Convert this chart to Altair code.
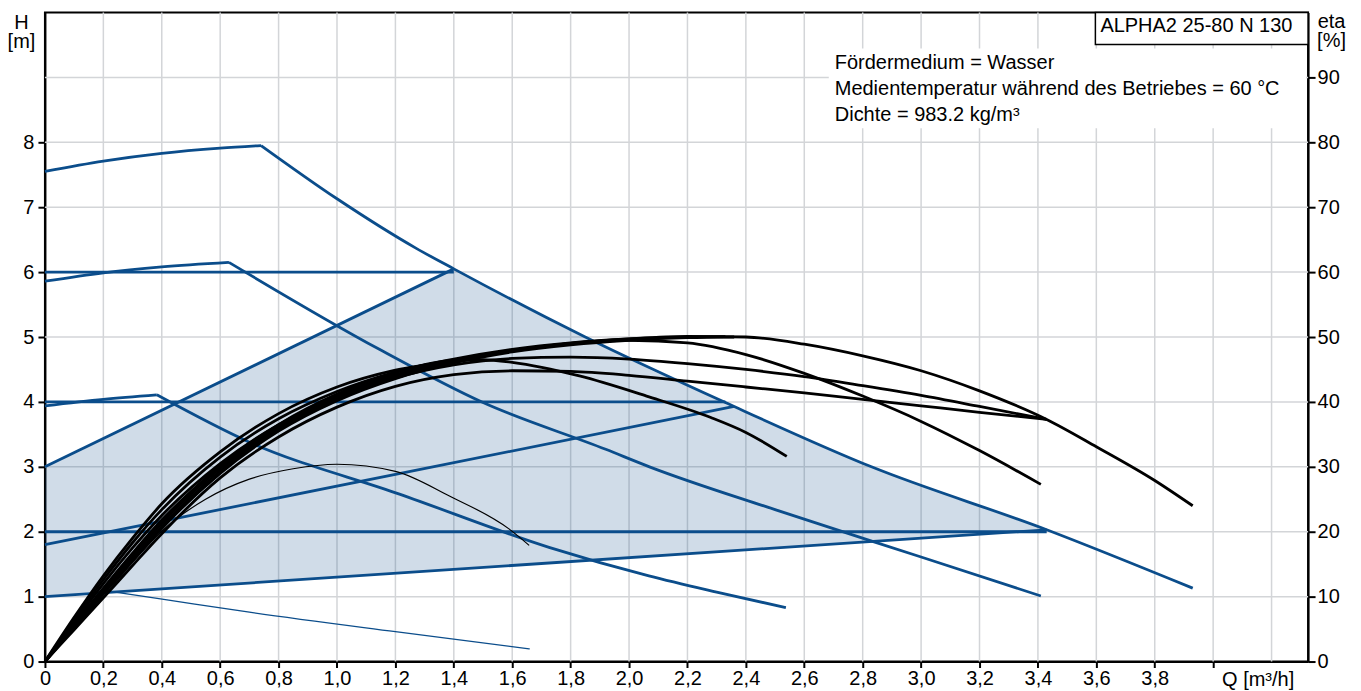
import altair as alt
import pandas as pd

BLUE = "#0b4d8b"
FILL = "#14508c"
GRID = "#d3d5d8"
FONT = "Liberation Sans"
FS = 20

# ---------------- axes ----------------
x_ticks = [0, 0.2, 0.4, 0.6, 0.8, 1.0, 1.2, 1.4, 1.6, 1.8, 2.0, 2.2, 2.4, 2.6, 2.8, 3.0, 3.2, 3.4, 3.6, 3.8, 4.0]
x_grid = [0.2, 0.4, 0.6, 0.8, 1.0, 1.2, 1.4, 1.6, 1.8, 2.0, 2.2, 2.4, 2.6, 2.8, 3.0, 3.2, 3.4, 3.6, 3.8, 4.0, 4.2]
h_ticks = [0, 1, 2, 3, 4, 5, 6, 7, 8]
h_grid = [1, 2, 3, 4, 5, 6, 7, 8, 9]
eta_ticks = [0, 10, 20, 30, 40, 50, 60, 70, 80, 90]

# ---------------- head curves H [m] ----------------
# max speed curve: rising part and falling part (sharp knee at the peak)
maxa_q = [0, 0.2, 0.4, 0.6, 0.74]
maxa_h = [7.55, 7.71, 7.83, 7.91, 7.95]
maxb_q = [0.74, 1.0, 1.27, 1.4, 1.85, 2.33, 2.83, 3.43, 3.93]
maxb_h = [7.95, 7.13, 6.37, 6.05, 5.0, 3.99, 3.0, 2.03, 1.13]

c2a_q = [0, 0.2, 0.4, 0.63]
c2a_h = [5.86, 5.99, 6.08, 6.15]
c2b_q = [0.63, 1.145, 1.5, 1.92, 2.07, 2.5, 3.0, 3.41]
c2b_h = [6.15, 4.81, 3.99, 3.27, 3.0, 2.34, 1.61, 1.01]

c3a_q = [0, 0.2, 0.383]
c3a_h = [3.94, 4.04, 4.11]
c3b_q = [0.383, 0.70, 1.214, 1.726, 2.068, 2.3, 2.537]
c3b_h = [4.11, 3.38, 2.58, 1.76, 1.32, 1.07, 0.83]

min_q = [0.24, 0.39, 0.70, 1.2, 1.66]
min_h = [1.07, 0.97, 0.76, 0.46, 0.195]

cp6_q = [0, 1.4]
cp6_h = [6.0, 6.0]
cp4_q = [0, 2.33]
cp4_h = [4.0, 4.0]
cp2_q = [0, 3.43]
cp2_h = [2.0, 2.0]

ppu_q = [0, 1.4]
ppu_h = [3.0, 6.05]
ppm_q = [0, 2.36]
ppm_h = [1.8, 3.93]
ppl_q = [0, 3.43]
ppl_h = [1.0, 2.03]

# shaded control range
area_q = [0, 1.4, 1.62, 1.85, 2.08, 2.33, 2.56, 2.83, 3.12, 3.43]
area_top = [3.0, 6.05, 5.5, 5.0, 4.48, 3.99, 3.52, 3.0, 2.51, 2.03]
area_bot = [1.0, 1.42, 1.49, 1.555, 1.625, 1.70, 1.77, 1.85, 1.94, 2.03]

# ---------------- efficiency curves eta [%] ----------------
emax_q = [0, 0.1, 0.2, 0.3, 0.4, 0.6, 0.8, 1.0, 1.2, 1.4, 1.6, 1.8, 2.0, 2.2, 2.4, 2.6, 2.8, 3.0, 3.2, 3.43, 3.6, 3.8, 3.93]
emax_e = [0, 6, 12, 17.5, 22.5, 30.5, 36.5, 40.8, 44, 46.3, 47.9, 49, 49.7, 50.1, 50, 48.9, 47.1, 44.8, 41.7, 37.3, 33.1, 27.9, 24]

eh6_q = [0, 0.1, 0.2, 0.3, 0.4, 0.6, 0.8, 1.0, 1.2, 1.4]
eh6_e = [0, 6.8, 13.2, 19, 24.3, 32.3, 38.2, 42.3, 44.9, 46.3]

eh4_q = [0, 0.1, 0.2, 0.3, 0.4, 0.6, 0.8, 1.0, 1.2, 1.4, 1.6, 1.8, 2.0, 2.2, 2.33]
eh4_e = [0, 6.4, 12.6, 18.3, 23.4, 31.5, 37.4, 41.6, 44.6, 46.6, 48.1, 49.1, 49.7, 50.0, 50.05]

epu_q = [0, 0.1, 0.2, 0.3, 0.4, 0.6, 0.8, 1.0, 1.2, 1.4]
epu_e = [0, 5.7, 11.3, 16.7, 21.8, 30, 36.3, 40.9, 44.2, 46.3]

epm_q = [0, 0.1, 0.2, 0.3, 0.4, 0.6, 0.8, 1.0, 1.2, 1.4, 1.6, 1.8, 2.0, 2.2, 2.36]
epm_e = [0, 5.2, 10.4, 15.5, 20.5, 29, 35.5, 40.2, 43.6, 46, 47.7, 48.8, 49.5, 49.9, 50.0]

ea_q = [0, 0.1, 0.2, 0.3, 0.4, 0.6, 0.8, 1.0, 1.2, 1.4, 1.6, 1.8, 2.0, 2.2, 2.4, 2.6, 2.8, 3.0, 3.2, 3.43]
ea_e = [0, 5.5, 11, 16.3, 21.3, 29.8, 36, 40.5, 43.7, 45.7, 46.7, 46.9, 46.6, 45.9, 45.0, 43.9, 42.5, 41.0, 39.3, 37.3]

eb_q = [0, 0.1, 0.2, 0.3, 0.4, 0.6, 0.8, 1.0, 1.2, 1.4, 1.6, 1.8, 2.0, 2.2, 2.4, 2.6, 2.8, 3.0, 3.2, 3.43]
eb_e = [0, 4.9, 9.8, 14.8, 19.7, 28.3, 34.6, 39.2, 42.4, 44.2, 44.8, 44.7, 44.1, 43.2, 42.3, 41.4, 40.4, 39.4, 38.4, 37.3]

e2_q = [0, 0.1, 0.2, 0.3, 0.4, 0.6, 0.8, 1.0, 1.2, 1.4, 1.6, 1.8, 2.0, 2.2, 2.4, 2.6, 2.8, 3.0, 3.2, 3.41]
e2_e = [0, 5.3, 10.6, 15.8, 20.8, 29.4, 35.8, 40.4, 43.8, 46.2, 47.9, 49.0, 49.5, 49.1, 47.3, 44.4, 40.9, 37.0, 32.5, 27.3]

e3_q = [0, 0.1, 0.2, 0.3, 0.4, 0.6, 0.8, 1.0, 1.2, 1.4, 1.5, 1.6, 1.83, 2.06, 2.28, 2.4, 2.54]
e3_e = [0, 5.5, 11, 16.3, 21.5, 30.2, 36.5, 41.2, 44.5, 46.4, 46.5, 46.1, 44.0, 40.9, 37.6, 35.3, 31.6]

emin_q = [0, 0.1, 0.2, 0.3, 0.41, 0.55, 0.7, 0.85, 1.0, 1.2, 1.385, 1.59, 1.658]
emin_e = [0, 5, 10, 15.3, 20.5, 25.0, 28.1, 29.7, 30.4, 29.3, 25.5, 20.4, 17.9]

info_lines = ["Fördermedium = Wasser",
              "Medientemperatur während des Betriebes = 60 °C",
              "Dichte = 983.2 kg/m³"]
model_label = "ALPHA2 25-80 N 130"


def sdf(name, q, v, col, w):
    return pd.DataFrame({"series": name, "Q": q, col: v, "w": w, "i": list(range(len(q)))})


blue_df = pd.concat([
    sdf("max_a", maxa_q, maxa_h, "H", 2.8),
    sdf("max_b", maxb_q, maxb_h, "H", 2.8),
    sdf("c2_a", c2a_q, c2a_h, "H", 2.8),
    sdf("c2_b", c2b_q, c2b_h, "H", 2.8),
    sdf("c3_a", c3a_q, c3a_h, "H", 2.8),
    sdf("c3_b", c3b_q, c3b_h, "H", 2.8),
    sdf("min", min_q, min_h, "H", 1.3),
    sdf("cp6", cp6_q, cp6_h, "H", 2.8),
    sdf("cp4", cp4_q, cp4_h, "H", 2.8),
    sdf("cp2", cp2_q, cp2_h, "H", 2.8),
    sdf("ppu", ppu_q, ppu_h, "H", 2.8),
    sdf("ppm", ppm_q, ppm_h, "H", 2.8),
    sdf("ppl", ppl_q, ppl_h, "H", 2.8),
], ignore_index=True)

black_df = pd.concat([
    sdf("emax", emax_q, emax_e, "eta", 2.8),
    sdf("eh6", eh6_q, eh6_e, "eta", 2.8),
    sdf("eh4", eh4_q, eh4_e, "eta", 2.8),
    sdf("epu", epu_q, epu_e, "eta", 2.8),
    sdf("epm", epm_q, epm_e, "eta", 2.8),
    sdf("ea", ea_q, ea_e, "eta", 2.8),
    sdf("eb", eb_q, eb_e, "eta", 2.8),
    sdf("e2", e2_q, e2_e, "eta", 2.8),
    sdf("e3", e3_q, e3_e, "eta", 2.8),
    sdf("emin", emin_q, emin_e, "eta", 1.2),
], ignore_index=True)

area_df = pd.DataFrame({"Q": area_q, "H": area_top, "H2": area_bot})

# ---------------- encodings ----------------
axis_x = alt.Axis(values=x_ticks, title=None, grid=False,
                  labelExpr="datum.value == 0 ? '0' : (datum.value > 3.9 ? '' : replace(format(datum.value, '.1f'), '.', ','))",
                  domainColor="black", domainWidth=2, tickColor="black", tickWidth=2, tickSize=6,
                  labelFont=FONT, labelFontSize=FS, labelColor="black", labelPadding=1,
                  labelFlush=False, labelOverlap=False, labelBaseline="top")
x_enc = alt.X("Q:Q", scale=alt.Scale(domain=[0, 4.325], nice=False, zero=False), axis=axis_x)

axis_h = alt.Axis(values=h_ticks, title=None, grid=False, orient="left",
                  domainColor="black", domainWidth=2, tickColor="black", tickWidth=2, tickSize=7,
                  labelFont=FONT, labelFontSize=FS, labelColor="black", labelPadding=4,
                  labelFlush=False, labelOverlap=False)
y_h = alt.Y("H:Q", scale=alt.Scale(domain=[0, 10], nice=False, zero=True), axis=axis_h)

axis_eta = alt.Axis(values=eta_ticks, title=None, grid=False, orient="right",
                    domainColor="black", domainWidth=2, tickColor="black", tickWidth=2, tickSize=7,
                    labelFont=FONT, labelFontSize=FS, labelColor="black", labelPadding=2,
                    labelFlush=False, labelOverlap=False)
y_eta = alt.Y("eta:Q", scale=alt.Scale(domain=[0, 100], nice=False, zero=True), axis=axis_eta)

grid_v = alt.Chart(pd.DataFrame({"Q": x_grid})).mark_rule(color=GRID, strokeWidth=1.5).encode(x=x_enc)
grid_h = alt.Chart(pd.DataFrame({"H": h_grid})).mark_rule(color=GRID, strokeWidth=1.5).encode(y=y_h)

area = alt.Chart(area_df).mark_area(color=FILL, opacity=0.2).encode(x=x_enc, y=y_h, y2="H2:Q")

blue = alt.Chart(blue_df).mark_line(color=BLUE, interpolate="monotone").encode(
    x=x_enc, y=y_h, detail="series:N", order=alt.Order("i:Q"),
    strokeWidth=alt.StrokeWidth("w:Q", scale=None))

black = alt.Chart(black_df).mark_line(color="black", interpolate="monotone").encode(
    x=x_enc, y=y_eta, detail="series:N", order=alt.Order("i:Q"),
    strokeWidth=alt.StrokeWidth("w:Q", scale=None))

one = pd.DataFrame({"a": [0]})
txt = dict(font=FONT, fontSize=FS, color="black")

annots = [
    alt.Chart(one).mark_rect(fill="white", strokeWidth=0).encode(
        x=alt.value(785), x2=alt.value(1263), y=alt.value(36), y2=alt.value(116)),
    alt.Chart(one).mark_rect(fill="white", stroke="black", strokeWidth=1.5).encode(
        x=alt.value(1052), x2=alt.value(1265), y=alt.value(0), y2=alt.value(32)),
    alt.Chart(one).mark_text(align="left", baseline="alphabetic", **txt).encode(
        x=alt.value(1057), y=alt.value(20), text=alt.value(model_label)),
]
for k, line in enumerate(info_lines):
    annots.append(alt.Chart(one).mark_text(align="left", baseline="alphabetic", **txt).encode(
        x=alt.value(791), y=alt.value(56.5 + 26 * k), text=alt.value(line)))

titles = [("H", -23.5, 16.5), ("[m]", -23.5, 36), ("eta", 1288.5, 15.5), ("[%]", 1288.5, 35),
          ("Q [m³/h]", 1215, 674.5)]
for t, tx, ty in titles:
    annots.append(alt.Chart(one).mark_text(align="center", baseline="alphabetic", **txt).encode(
        x=alt.value(tx), y=alt.value(ty), text=alt.value(t)))

group_h = alt.layer(grid_v, grid_h, area, blue)
chart = alt.layer(group_h, black, *annots).resolve_scale(y="independent").properties(
    width=1265, height=650,
    autosize=alt.AutoSizeParams(type="none"),
    padding={"left": 37, "top": 4, "right": 45, "bottom": 28},
).configure_view(stroke="black", strokeWidth=2)

chart.save("out.html", embed_options={"renderer": "svg", "actions": False})
